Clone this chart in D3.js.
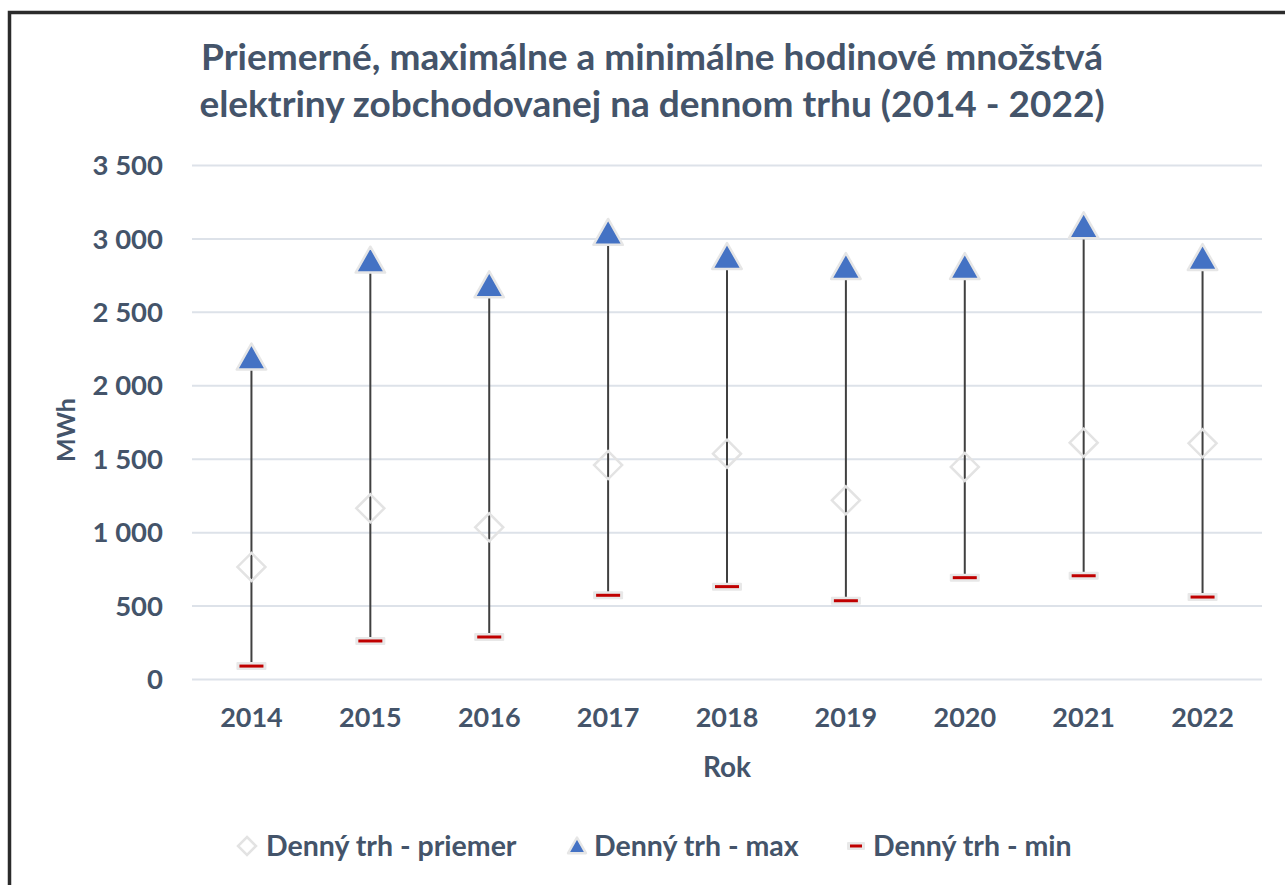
<!DOCTYPE html>
<html>
<head>
<meta charset="utf-8">
<script src="https://cdn.jsdelivr.net/npm/d3@7"></script>
<style>
  html, body { margin: 0; padding: 0; background: #fff; }
  svg { display: block; font-family: Lato, "Open Sans", sans-serif; }
</style>
</head>
<body>
<svg id="chart" width="1285" height="885"></svg>
<script>
// Annual hourly volumes on the day-ahead market (MWh)
const years = ["2014", "2015", "2016", "2017", "2018", "2019", "2020", "2021", "2022"];
const avgValues = [763, 1162, 1033, 1457, 1534, 1217, 1444, 1609, 1605];
const maxValues = [2202, 2862, 2694, 3051, 2887, 2819, 2819, 3096, 2880];
const minValues = [88, 259, 286, 570, 629, 533, 690, 703, 558];
const yTicks = [0, 500, 1000, 1500, 2000, 2500, 3000, 3500];
const titleLines = [
  "Priemerné, maximálne a minimálne hodinové množstvá",
  "elektriny zobchodovanej na dennom trhu (2014 - 2022)"
];
const legendLabels = ["Denný trh - priemer", "Denný trh - max", "Denný trh - min"];

const textColor = "#44546A";
const svg = d3.select("#chart");

// outer frame (continues past the right and bottom edges)
svg.append("rect")
  .attr("x", 9.5).attr("y", 12.5)
  .attr("width", 1400).attr("height", 1000)
  .attr("fill", "none").attr("stroke", "#2b2b2b").attr("stroke-width", 3.5);

const plot = { left: 192, right: 1262, top: 165, bottom: 679 };

const x = d3.scaleBand().domain(years).range([plot.left, plot.right]);
const y = d3.scaleLinear().domain([0, 3500]).range([plot.bottom, plot.top]);

// title
svg.append("g").selectAll("text").data(titleLines).join("text")
  .attr("x", 652).attr("y", (d, i) => 70 + i * 47)
  .attr("text-anchor", "middle")
  .attr("font-size", 37).attr("font-weight", 700)
  .attr("fill", textColor)
  .text(d => d);

// gridlines + y labels
const yAxis = d3.axisLeft(y).tickValues(yTicks)
  .tickSize(-(plot.right - plot.left))
  .tickPadding(29)
  .tickFormat(d => d3.format(",")(d).replace(/,/g, " "));
const yg = svg.append("g").attr("transform", `translate(${plot.left},0)`).call(yAxis);
yg.select(".domain").remove();
yg.selectAll(".tick line").attr("stroke", "#dde2e9").attr("stroke-width", 2);
yg.selectAll(".tick text")
  .attr("font-size", 27.5).attr("font-weight", 700).attr("fill", textColor)
  .attr("font-family", "Lato, sans-serif").attr("dy", "0.35em");

// x labels
const xAxis = d3.axisBottom(x).tickSize(0).tickPadding(29);
const xg = svg.append("g").attr("transform", `translate(0,${plot.bottom})`).call(xAxis);
xg.select(".domain").remove();
xg.selectAll(".tick text")
  .attr("font-size", 27).attr("font-weight", 700).attr("fill", textColor)
  .attr("font-family", "Lato, sans-serif");

// axis titles
svg.append("text")
  .attr("transform", `translate(75,${(plot.top + plot.bottom) / 2 + 8}) rotate(-90)`)
  .attr("text-anchor", "middle")
  .attr("font-size", 25).attr("font-weight", 700).attr("fill", textColor)
  .text("MWh");
svg.append("text")
  .attr("x", (plot.left + plot.right) / 2).attr("y", 777)
  .attr("text-anchor", "middle")
  .attr("font-size", 28).attr("font-weight", 700).attr("fill", textColor)
  .text("Rok");

const cx = d => x(d) + x.bandwidth() / 2;
const rows = years.map((yr, i) => ({ yr, avg: avgValues[i], max: maxValues[i], min: minValues[i] }));

// high-low lines
svg.append("g").selectAll("line").data(rows).join("line")
  .attr("x1", d => cx(d.yr)).attr("x2", d => cx(d.yr))
  .attr("y1", d => y(d.max)).attr("y2", d => y(d.min))
  .attr("stroke", "#404040").attr("stroke-width", 2);

// marker shapes
const diamondPath = s => `M0,${-s}L${s},0L0,${s}L${-s},0Z`;
const trianglePath = s => `M0,${-s}L${s * 1.05},${s * 0.85}L${-s * 1.05},${s * 0.85}Z`;

function drawDiamond(g, s) {
  g.append("path").attr("d", diamondPath(s))
    .attr("fill", "none").attr("stroke", "#e3e3e3").attr("stroke-width", 2.5);
}
function drawTriangle(g, s) {
  g.append("path").attr("d", trianglePath(s))
    .attr("fill", "#4472C4").attr("stroke", "#e6e6e6").attr("stroke-width", 2.5)
    .attr("stroke-linejoin", "round");
}
function drawDash(g, w) {
  g.append("rect").attr("x", -w / 2 - 3).attr("y", -4).attr("width", w + 6).attr("height", 8)
    .attr("fill", "#e8e8e8").attr("rx", 1);
  g.append("rect").attr("x", -w / 2).attr("y", -1.5).attr("width", w).attr("height", 3)
    .attr("fill", "#C00000");
}

// average markers
svg.append("g").selectAll("g").data(rows).join("g")
  .attr("transform", d => `translate(${cx(d.yr)},${y(d.avg)})`)
  .each(function () { drawDiamond(d3.select(this), 14); });

// min markers
svg.append("g").selectAll("g").data(rows).join("g")
  .attr("transform", d => `translate(${cx(d.yr)},${y(d.min)})`)
  .each(function () { drawDash(d3.select(this), 24); });

// max markers
svg.append("g").selectAll("g").data(rows).join("g")
  .attr("transform", d => `translate(${cx(d.yr)},${y(d.max) + 2})`)
  .each(function () { drawTriangle(d3.select(this), 14); });

// legend
const legendY = 846;
const legendItems = [
  { label: legendLabels[0], mx: 247, tx: 266, draw: g => drawDiamond(g, 9) },
  { label: legendLabels[1], mx: 577, tx: 594, draw: g => drawTriangle(g, 8.5) },
  { label: legendLabels[2], mx: 856, tx: 873, draw: g => drawDash(g, 12) }
];
const lg = svg.append("g");
legendItems.forEach(it => {
  const m = lg.append("g").attr("transform", `translate(${it.mx},${legendY})`);
  it.draw(m);
  lg.append("text").attr("x", it.tx).attr("y", legendY + 10)
    .attr("font-size", 28.5).attr("font-weight", 700).attr("fill", textColor)
    .text(it.label);
});
</script>
</body>
</html>
